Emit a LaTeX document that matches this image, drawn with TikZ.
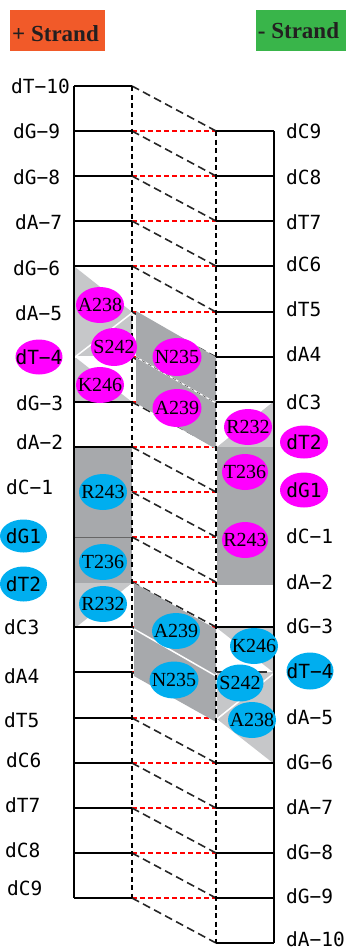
\documentclass[tikz,border=0pt]{standalone}
\usepackage{fontspec}
\usetikzlibrary{shapes.geometric}
\newfontfamily\monof{DejaVu Sans Mono}
\newfontfamily\tmsf{Liberation Serif}
\definecolor{mag}{HTML}{FF00FF}
\definecolor{cyanb}{HTML}{00AEEF}
\definecolor{dgray}{HTML}{A7A9AC}
\definecolor{lgray}{HTML}{C6C7C9}
\definecolor{orangeh}{HTML}{F15A29}
\definecolor{greenh}{HTML}{39B54A}
\definecolor{txtd}{HTML}{231F20}
\begin{document}
\begin{tikzpicture}[x=1pt,y=-1pt,
  reddash/.style={draw=red, line width=2pt, dash pattern=on 5pt off 3pt},
  blkdash/.style={draw=black!85, line width=1.6pt, dash pattern=on 8pt off 4.5pt},
  vdash/.style={draw=black, line width=2pt, dash pattern=on 5pt off 3.5pt},
  rung/.style={draw=black, line width=2pt},
  bone/.style={draw=black, line width=2pt},
  dlab/.style={inner sep=0pt, anchor=west, font=\monof\fontsize{19.5}{19.5}\selectfont},
  dell/.style={ellipse, inner sep=0pt, minimum width=47pt, minimum height=35pt, font=\monof\fontsize{19.5}{19.5}\selectfont},
  prot/.style={ellipse, inner sep=0pt, minimum width=48pt, minimum height=36pt, font=\tmsf\fontsize{20}{20}\selectfont},
  hbox/.style={inner sep=0pt, minimum width=95pt, minimum height=41pt},
  htext/.style={inner sep=0pt, anchor=base, text=txtd, font=\tmsf\bfseries\fontsize{23}{23}\selectfont}
]
\useasboundingbox (0,0) rectangle (348,951);

% headers
\node[hbox, fill=orangeh, minimum width=95pt] (hplus) at (57.5,30.5) {};
\node[htext] (tplus) at (55.5,41.5) {+ Strand};
\node[hbox, fill=greenh, minimum width=90pt] (hminus) at (301,30.5) {};
\node[htext] (tminus) at (298.5,38.3) {- Strand};

% coordinates
\foreach \k in {0,...,18} {
  \pgfmathsetmacro\yy{round(86+45.11*\k)}
  \coordinate (L\k) at (132,\yy);
  \coordinate (LB\k) at (74,\yy);
}
\foreach \k in {1,...,19} {
  \pgfmathsetmacro\yy{round(86+45.11*\k)}
  \coordinate (R\k) at (216,\yy);
  \coordinate (RB\k) at (274,\yy);
}

% base-pair and stacking dashes
\foreach \k in {1,...,18} \draw[reddash] (L\k) -- (R\k);
\foreach \k [evaluate=\k as \n using int(\k+1)] in {0,...,18} \draw[blkdash] (L\k) -- (R\n);

% shaded contact regions (magenta set)
\fill[lgray] (75,267) -- (132,312) -- (132,357) -- (75,357) -- cycle;
\fill[lgray] (75,357) -- (132,402) -- (75,402) -- cycle;
\draw[white, line width=1.5pt] (75,357) -- (132,313);
\draw[white, line width=1.2pt] (75,357) -- (132,357);
\fill[dgray] (136,311) -- (216,357) -- (216,449) -- (136,403) -- cycle;
\draw[white, line width=1.2pt] (136,357) -- (216,403);
\draw[black!70, line width=0.5pt, dash pattern=on 4pt off 3pt] (136,357) -- (216,403);
\fill[lgray] (273,402) -- (273,447) -- (217,447) -- cycle;
\fill[dgray] (217,447) rectangle (273,585);

% shaded contact regions (blue set)
\fill[dgray] (75,447) rectangle (132,583);
\draw[black!60, line width=0.6pt] (75,537) -- (132,537);
\fill[lgray] (75,583) -- (132,583) -- (75,628) -- cycle;
\fill[dgray] (134,583) -- (216,629) -- (216,722) -- (134,676) -- cycle;
\draw[white, line width=1.5pt] (134,629) -- (216,676);
\fill[lgray] (217,628) -- (273,628) -- (273,672) -- cycle;
\fill[lgray] (217,672) -- (273,672) -- (273,763) -- (217,719) -- cycle;
\draw[white, line width=1.5pt] (217,719) -- (273,674);

% vertical dashed guides
\draw[vdash] (L0) -- (L18);
\draw[vdash] (R1) -- (R19);

% rungs
\foreach \k in {0,1,2,3,4,7,8,12,13,14,15,16,17,18} \draw[rung] (LB\k) -- (L\k);
\foreach \k in {1,2,3,4,5,6,7,12,15,16,17,18,19} \draw[rung] (R\k) -- (RB\k);
\draw[black!80, line width=1.4pt] (R13) -- ([xshift=-7pt]RB13);

% backbones
\draw[bone] (LB0) -- (LB18);
\draw[bone] (RB1) -- (RB19);

% left labels
\node[dlab] (l0) at (11,86) {dT−10};
\node[dlab] (l1) at (13,131) {dG−9};
\node[dlab] (l2) at (13,177) {dG−8};
\node[dlab] (l3) at (15,222) {dA−7};
\node[dlab] (l4) at (13,268) {dG−6};
\node[dlab] (l5) at (15,313) {dA−5};
\node[dell, fill=mag] (l6) at (39,357) {\makebox[0pt]{dT−4}};
\node[dlab] (l7) at (16,403) {dG−3};
\node[dlab] (l8) at (16,442) {dA−2};
\node[dlab] (l9) at (6,487) {dC−1};
\node[dell, fill=cyanb, minimum height=33pt] (l10) at (23.5,536) {\makebox[0pt]{dG1}};
\node[dell, fill=cyanb] (l11) at (23.5,584) {\makebox[0pt]{dT2}};
\node[dlab] (l12) at (4,627) {dC3};
\node[dlab] (l13) at (4,676) {dA4};
\node[dlab] (l14) at (4,720) {dT5};
\node[dlab] (l15) at (6,760) {dC6};
\node[dlab] (l16) at (5,805) {dT7};
\node[dlab] (l17) at (5,850) {dC8};
\node[dlab] (l18) at (7,888) {dC9};

% right labels
\node[dlab] (r1) at (286,131) {dC9};
\node[dlab] (r2) at (286,177) {dC8};
\node[dlab] (r3) at (286,222) {dT7};
\node[dlab] (r4) at (286,264) {dC6};
\node[dlab] (r5) at (286,309) {dT5};
\node[dlab] (r6) at (286,354) {dA4};
\node[dlab] (r7) at (286,402) {dC3};
\node[dell, fill=mag, minimum width=48pt, minimum height=33pt] (r8) at (304,442) {\makebox[0pt]{dT2}};
\node[dell, fill=mag, minimum width=48pt] (r9) at (304,490) {\makebox[0pt]{dG1}};
\node[dlab] (r10) at (286,536) {dC−1};
\node[dlab] (r11) at (286,582) {dA−2};
\node[dlab] (r12) at (286,626) {dG−3};
\node[dell, fill=cyanb, minimum height=37pt] (r13) at (310,671) {\makebox[0pt]{dT−4}};
\node[dlab] (r14) at (286,717) {dA−5};
\node[dlab] (r15) at (286,762) {dG−6};
\node[dlab] (r16) at (286,807) {dA−7};
\node[dlab] (r17) at (286,852) {dG−8};
\node[dlab] (r18) at (286,896) {dG−9};
\node[dlab] (r19) at (286,939) {dA−10};

% protein residues (magenta)
\node[prot, fill=mag] (mA238) at (100,305) {\makebox[0pt]{A238}};
\node[prot, fill=mag, minimum width=46pt, minimum height=38pt] (mS242) at (114,347) {\makebox[0pt]{S242}};
\node[prot, fill=mag] (mK246) at (100,385) {\makebox[0pt]{K246}};
\node[prot, fill=mag, minimum width=49pt, minimum height=38pt] (mN235) at (177,357) {\makebox[0pt]{N235}};
\node[prot, fill=mag, minimum width=49pt, minimum height=38pt] (mA239) at (177,408) {\makebox[0pt]{A239}};
\node[prot, fill=mag] (mR232) at (248,427) {\makebox[0pt]{R232}};
\node[prot, fill=mag, minimum width=46pt] (mT236) at (245,472) {\makebox[0pt]{T236}};
\node[prot, fill=mag, minimum width=46pt] (mR243) at (245,540) {\makebox[0pt]{R243}};

% protein residues (blue)
\node[prot, fill=cyanb] (bR243) at (103,492) {\makebox[0pt]{R243}};
\node[prot, fill=cyanb] (bT236) at (103,562) {\makebox[0pt]{T236}};
\node[prot, fill=cyanb] (bR232) at (103,604) {\makebox[0pt]{R232}};
\node[prot, fill=cyanb] (bA239) at (176,631) {\makebox[0pt]{A239}};
\node[prot, fill=cyanb, minimum width=49pt, minimum height=37pt] (bN235) at (174,680) {\makebox[0pt]{N235}};
\node[prot, fill=cyanb] (bK246) at (254,646) {\makebox[0pt]{K246}};
\node[prot, fill=cyanb, minimum width=47pt, minimum height=37pt] (bS242) at (240,683) {\makebox[0pt]{S242}};
\node[prot, fill=cyanb] (bA238) at (252,720) {\makebox[0pt]{A238}};
\end{tikzpicture}
\end{document}
